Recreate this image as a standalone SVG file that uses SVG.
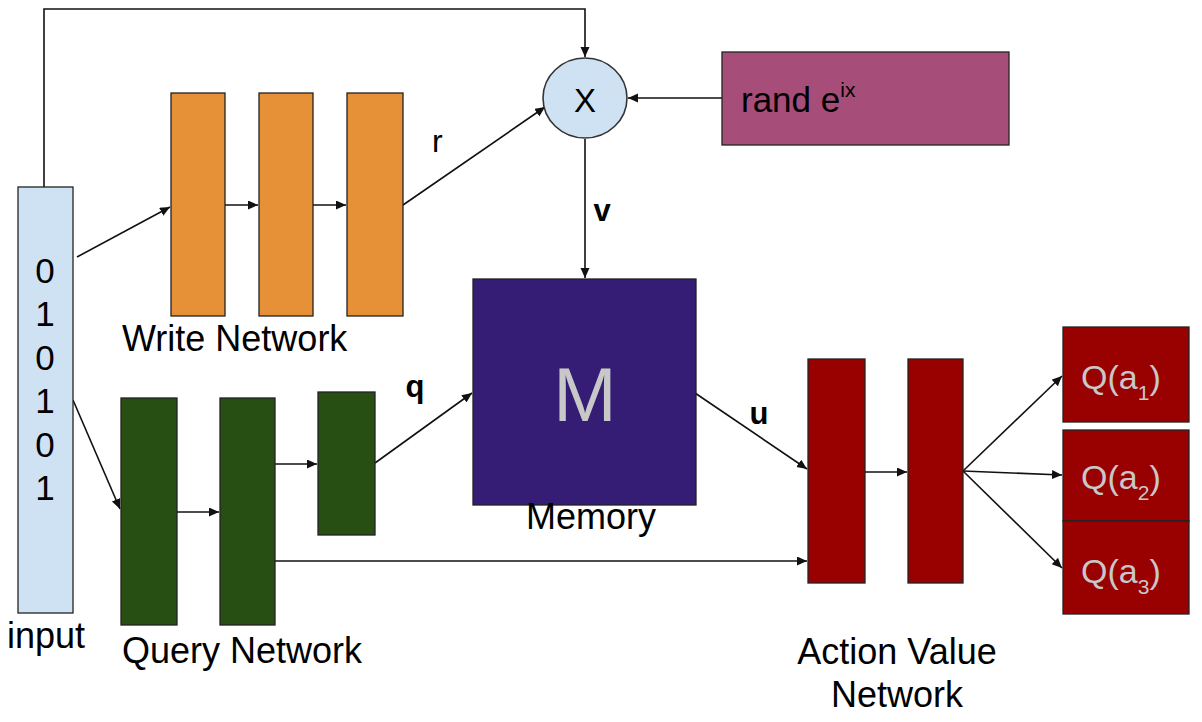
<svg xmlns="http://www.w3.org/2000/svg" width="1202" height="722" viewBox="0 0 1202 722">
<style>
  text { font-family: "Liberation Sans", Arial, sans-serif; fill: #000; }
  .lbl { font-size: 36px; }
  .bold { font-size: 31px; font-weight: bold; }
  .box { stroke: #222; stroke-width: 1.3; }
  .inp { fill: #cfe2f3; }
  .org { fill: #e69138; }
  .grn { fill: #274e13; }
  .red { fill: #990000; }
  .mem { fill: #351c75; }
  .rnd { fill: #a64d79; }
  .conn { fill: none; stroke: #111; stroke-width: 1.6; }
  .arr { marker-end: url(#ah); }
  .light { fill: #c8c8c8; }
  .q { font-size: 34px; }
</style>
<defs>
  <marker id="ah" markerUnits="userSpaceOnUse" markerWidth="12" markerHeight="10" refX="10" refY="4.5" orient="auto">
    <path d="M0,0 L10,4.5 L0,9 Z" fill="#111"/>
  </marker>
</defs>
<rect width="1202" height="722" fill="#fff"/>

<g id="connectors">
  <polyline class="conn arr" points="44,187 44,9 585,9 585,57"/>
  <line class="conn arr" x1="722" y1="98" x2="628" y2="98"/>
  <line class="conn arr" x1="77" y1="257" x2="170" y2="207"/>
  <line class="conn arr" x1="225" y1="205" x2="258" y2="205"/>
  <line class="conn arr" x1="313" y1="205" x2="346" y2="205"/>
  <line class="conn arr" x1="403" y1="205" x2="545" y2="107"/>
  <line class="conn arr" x1="585" y1="139" x2="585" y2="278"/>
  <line class="conn arr" x1="73" y1="400" x2="120" y2="509"/>
  <line class="conn arr" x1="177" y1="512" x2="219" y2="512"/>
  <line class="conn arr" x1="275" y1="464" x2="317" y2="464"/>
  <line class="conn arr" x1="375" y1="463" x2="472" y2="393"/>
  <line class="conn arr" x1="275" y1="561" x2="807" y2="561"/>
  <line class="conn arr" x1="695" y1="393" x2="807" y2="469"/>
  <line class="conn arr" x1="865" y1="472" x2="907" y2="472"/>
  <line class="conn arr" x1="963" y1="471" x2="1062" y2="376"/>
  <line class="conn arr" x1="963" y1="471" x2="1062" y2="475"/>
  <line class="conn arr" x1="963" y1="471" x2="1062" y2="568"/>
</g>

<g id="input">
  <rect class="box inp" x="18" y="187" width="55" height="426"/>
  <g font-size="35" text-anchor="middle">
    <text x="45" y="283">0</text>
    <text x="45" y="326">1</text>
    <text x="45" y="370">0</text>
    <text x="45" y="413">1</text>
    <text x="45" y="457">0</text>
    <text x="45" y="500">1</text>
  </g>
  <text class="lbl" x="7" y="648">input</text>
</g>

<g id="write-network">
  <rect class="box org" x="171" y="93" width="54" height="223"/>
  <rect class="box org" x="259" y="93" width="54" height="223"/>
  <rect class="box org" x="347" y="93" width="56" height="223"/>
  <text class="lbl" x="122" y="351">Write Network</text>
</g>

<g id="multiply">
  <ellipse cx="585" cy="98" rx="42" ry="40" fill="#cfe2f3" stroke="#333" stroke-width="1.6"/>
  <text x="585" y="112" text-anchor="middle" font-size="33">X</text>
</g>

<g id="rand">
  <rect class="box rnd" x="722" y="52" width="287" height="93"/>
  <text x="741" y="112" font-size="35">rand e<tspan font-size="21" dy="-15">ix</tspan></text>
</g>

<g id="memory">
  <rect class="box mem" x="473" y="279" width="223" height="226"/>
  <text class="light" x="585" y="421" text-anchor="middle" font-size="76">M</text>
  <text class="lbl" x="591" y="529" text-anchor="middle">Memory</text>
</g>

<g id="query-network">
  <rect class="box grn" x="121" y="398" width="56" height="227"/>
  <rect class="box grn" x="220" y="398" width="55" height="227"/>
  <rect class="box grn" x="318" y="392" width="57" height="143"/>
  <text class="lbl" x="122" y="663">Query Network</text>
</g>

<g id="action-value-network">
  <rect class="box red" x="808" y="359" width="57" height="224"/>
  <rect class="box red" x="908" y="359" width="55" height="224"/>
  <text class="lbl" x="897" y="664" text-anchor="middle">Action Value</text>
  <text class="lbl" x="897" y="707" text-anchor="middle">Network</text>
</g>

<g id="q1">
  <rect class="box red" x="1063" y="327" width="126" height="95"/>
  <text class="light q" x="1081" y="389">Q(a<tspan font-size="21" dy="11">1</tspan><tspan dy="-11">)</tspan></text>
</g>
<g id="q2">
  <rect class="box red" x="1063" y="430" width="126" height="91"/>
  <text class="light q" x="1081" y="489">Q(a<tspan font-size="21" dy="11">2</tspan><tspan dy="-11">)</tspan></text>
</g>
<g id="q3">
  <rect class="box red" x="1063" y="521" width="126" height="93"/>
  <text class="light q" x="1081" y="583">Q(a<tspan font-size="21" dy="11">3</tspan><tspan dy="-11">)</tspan></text>
</g>

<g id="edge-labels">
  <text x="432" y="152" font-size="32">r</text>
  <text class="bold" x="602" y="221" text-anchor="middle">v</text>
  <text class="bold" x="415" y="397" text-anchor="middle">q</text>
  <text class="bold" x="759" y="424" text-anchor="middle">u</text>
</g>
</svg>
